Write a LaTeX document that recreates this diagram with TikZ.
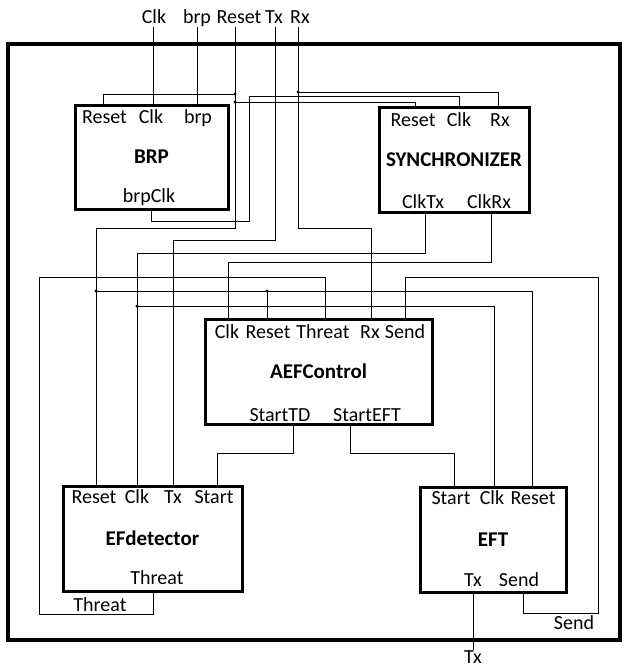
\documentclass[tikz,border=0pt]{standalone}
\usepackage{fontspec}
\setmainfont{Carlito}

\begin{document}
\begin{tikzpicture}[x=1pt,y=-1pt,font=\fontsize{20}{24}\selectfont]
    \tikzstyle{blk}=[draw,line width=3pt,inner sep=0pt,minimum height=105pt,font=\fontsize{21}{24}\selectfont\bfseries]
    \tikzstyle{pin}=[anchor=base,inner sep=0pt]
    \tikzstyle{w}=[line width=1pt]
    \useasboundingbox (0,0) rectangle (624,672);
    \node[draw,line width=4pt,minimum width=612pt,minimum height=596pt] (sys) at (314,342) {};
    \node[blk,minimum width=153pt,minimum height=104pt] (brp) at (151.5,157) {BRP};
    \node[blk,minimum width=150pt] (sync) at (454,159.5) {SYNCHRONIZER};
    \node[blk,minimum width=227pt] (aef) at (318.5,371.5) {AEFControl};
    \node[blk,minimum width=179pt] (efd) at (152.5,538.5) {EFdetector};
    \node[blk,minimum width=146pt] (eft) at (493,539.5) {EFT};
    \foreach \n/\x/\y/\t in {lClk/154/23/Clk,lBrp/197/23/brp,lRst/239/23/Reset,lTx/274/23/Tx,lRx/300/23/Rx,
        bRstT/104.5/123/Reset,bClkT/151/123/Clk,bBrpT/198/123/brp,bOutT/149/202/brpClk,
        sRstT/413/126/Reset,sClkT/459/126/Clk,sRxT/500/126/Rx,sTxT/423/208/ClkTx,sRxoT/489/208/ClkRx,
        aClkT/227/338/Clk,aRstT/268/338/Reset,aThrT/323/338/Threat,aRxT/370/338/Rx,aSndT/405/338/Send,
        aTDT/280/421/StartTD,aEFTT/367/421/StartEFT,
        dRstT/94/503/Reset,dClkT/137/503/Clk,dTxT/173/503/Tx,dStT/214/503/Start,dThrT/157/584/Threat,
        tStT/451/504/Start,tClkT/492/504/Clk,tRstT/533/504/Reset,tTxT/473/586/Tx,tSndT/519/586/Send,
        oThr/100/611/Threat,oSnd/574/629/Send,oTx/473/663/Tx}
        \node[pin] (\n) at (\x,\y) {\t};
    \foreach \n/\x/\y in {iClk/153/27,iBrp/197/27,iRst/235/27,iTx/275/27,iRx/298/27,
        bRst/103/105,bClk/153/105,bBrp/197/105,bOut/151/209,
        sRst/415/107,sClk/459/107,sRx/498/107,sTx/425/212,sRxo/491/212,
        aClk/228/319,aRst/267/319,aThr/325/319,aRx/371/319,aSnd/405/319,aTD/293/424,aEFT/350/424,
        dRst/96/486,dClk/137/486,dTx/173/486,dSt/217/486,dThr/153/591,
        tSt/454/487,tClk/494/487,tRst/532/487,tTx/473/592,tSnd/523/592,tOut/473/650,
        j1/235/94,j2/235/102,j3/298/92,j4/96/291,j5/267/291,j6/137/306}
        \coordinate (\n) at (\x,\y);
    \foreach \a/\b in {iClk/bClk,iBrp/bBrp,j5/aRst,tTx/tOut} \draw[w] (\a) -- (\b);
    \foreach \a/\b in {j1/bRst,j2/sRst,j3/sRx,j4/tRst,j6/tClk} \draw[w] (\a) -| (\b);
    \draw[w] (iRst) |- (96,228) -- (dRst);
    \draw[w] (iTx) |- (173,240) -- (dTx);
    \draw[w] (iRx) |- (371,228) -- (aRx);
    \draw[w] (bOut) |- (249,221) -- (249,96) -| (sClk);
    \draw[w] (sTx) |- (137,253) -- (dClk);
    \draw[w] (sRxo) |- (228,262) -- (aClk);
    \draw[w] (dThr) |- (39,614) |- (325,277) -- (aThr);
    \draw[w] (tSnd) |- (598,613) |- (405,277) -- (aSnd);
    \draw[w] (aTD) |- (217,453) -- (dSt);
    \draw[w] (aEFT) |- (454,453) -- (tSt);
    \foreach \j in {j1,j2,j3,j4,j5,j6} \fill (\j) circle (1.6pt);
\end{tikzpicture}
\end{document}
